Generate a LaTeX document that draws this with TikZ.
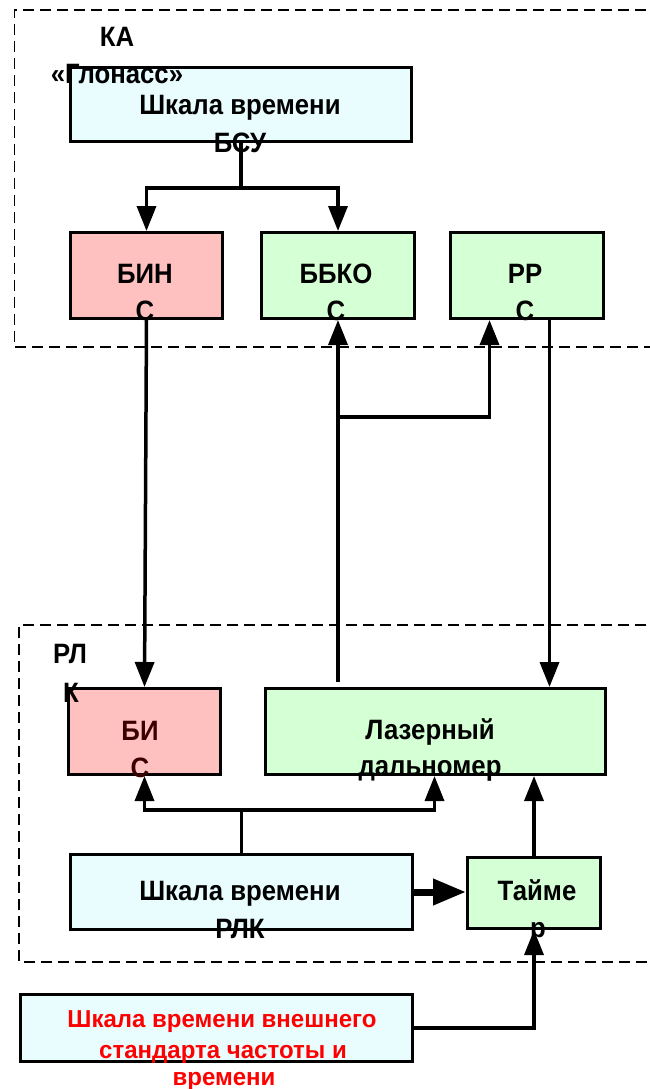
\documentclass[tikz,border=0pt]{standalone}
\usepackage{fontspec}
\setmainfont{Liberation Sans}[FakeStretch=0.92]
\newfontfamily\extfont{Liberation Sans}[FakeStretch=0.98]
\usetikzlibrary{arrows.meta}
\definecolor{cyanfill}{HTML}{E9FDFF}
\definecolor{pinkfill}{HTML}{FFC0C0}
\definecolor{greenfill}{HTML}{D5FFD5}
\definecolor{darkred}{HTML}{3A0000}
\begin{document}
\begin{tikzpicture}[x=1pt,y=-1pt,
  box/.style={draw=black, line width=3pt, inner sep=0pt, anchor=north west},
  lbl/.style={anchor=base, inner sep=0pt, font=\fontsize{28}{36}\selectfont\bfseries},
  extlbl/.style={anchor=base, inner sep=0pt, text=red, font=\extfont\fontsize{24.5}{30}\selectfont\bfseries},
  conn/.style={line width=3.5pt},
  arr/.style={line width=3.5pt, -{Triangle[width=19pt,length=25pt]}},
  frame/.style={line width=1.3pt, dash pattern=on 11pt off 6pt}]
\useasboundingbox (0,0) rectangle (650,1089);
\fill[white] (0,0) rectangle (650,1089);
% dashed frames
\draw[frame] (680,10) -- (14.5,10) -- (14.5,347) -- (680,347);
\draw[frame] (680,625) -- (19,625) -- (19,962) -- (680,962);
% boxes
\node[box, fill=cyanfill, minimum width=341pt, minimum height=74pt] (bsu) at (69,66) {};
\node[box, fill=pinkfill, minimum width=152pt, minimum height=86pt] (bin) at (69,231) {};
\node[box, fill=greenfill, minimum width=153pt, minimum height=86pt] (bbko) at (260,231) {};
\node[box, fill=greenfill, minimum width=153pt, minimum height=86pt] (rr) at (449,231) {};
\node[box, fill=pinkfill, minimum width=152pt, minimum height=86pt] (bis) at (67,687) {};
\node[box, fill=greenfill, minimum width=340pt, minimum height=86pt] (laser) at (264,687) {};
\node[box, fill=cyanfill, minimum width=342pt, minimum height=75pt] (rlk) at (69,853) {};
\node[box, fill=greenfill, minimum width=133pt, minimum height=71pt] (timer) at (466,856) {};
\node[box, fill=cyanfill, minimum width=392pt, minimum height=67pt] (ext) at (19,993) {};
% labels
\node[lbl] (ka1) at (117,47) {КА};
\node[lbl] (ka2) at (117,84) {«Глонасс»};
\node[lbl] (bsu1) at (240,115) {Шкала времени};
\node[lbl] (bsu2) at (240,153) {БСУ};
\node[lbl] (bin1) at (145,283) {БИН};
\node[lbl] (bin2) at (145,320) {С};
\node[lbl] (bbko1) at (336,283) {ББКО};
\node[lbl] (bbko2) at (336,320) {С};
\node[lbl] (rr1) at (525,283) {РР};
\node[lbl] (rr2) at (525,320) {С};
\node[lbl] (rlk1) at (70,663) {РЛ};
\node[lbl] (rlk2) at (71,702) {К};
\node[lbl, text=darkred] (bis1) at (140,740) {БИ};
\node[lbl, text=darkred] (bis2) at (140,777) {С};
\node[lbl] (las1) at (430,739) {Лазерный};
\node[lbl] (las2) at (430,775) {дальномер};
\node[lbl] (rl1) at (240,900) {Шкала времени};
\node[lbl] (rl2) at (240,938) {РЛК};
\node[lbl] (tm1) at (537,900) {Тайме};
\node[lbl] (tm2) at (538,937) {р};
\node[extlbl] (ex1) at (222,1027) {Шкала времени внешнего};
\node[extlbl] (ex2) at (223,1058) {стандарта частоты и};
\node[extlbl] (ex3) at (224,1085) {времени};
% connectors top
\draw[conn] (bsu.south) -- ++(0,45) coordinate (jtop);
\draw[arr] (jtop) -| (bin.north);
\draw[arr] (jtop) -| (bbko.north);
\draw[arr] (bin.south) -- (bis.north);
\coordinate (lasstem) at ([yshift=5pt]bbko.south |- laser.north);
\draw[arr] (lasstem) -- (bbko.south);
\coordinate (br) at ([yshift=-97pt]bbko.south);
\draw[arr] (br) -| ([xshift=-37.5pt]rr.south);
\draw[arr] ([xshift=22.5pt]rr.south) -- ([xshift=22.5pt]rr.south |- laser.north);
% connectors bottom
\draw[conn] (rlk.north) -- ++(0,-43) coordinate (jbot);
\draw[arr] (jbot) -| (bis.south);
\draw[arr] (jbot) -| ([xshift=-1pt]laser.south);
\draw[line width=7pt, -{Triangle[width=25pt,length=33pt]}] (rlk.east) -- (rlk.east -| timer.west);
\draw[arr] (timer.north) -- (timer.north |- laser.south);
\draw[arr] (ext.east) -| (timer.south);
\end{tikzpicture}
\end{document}
